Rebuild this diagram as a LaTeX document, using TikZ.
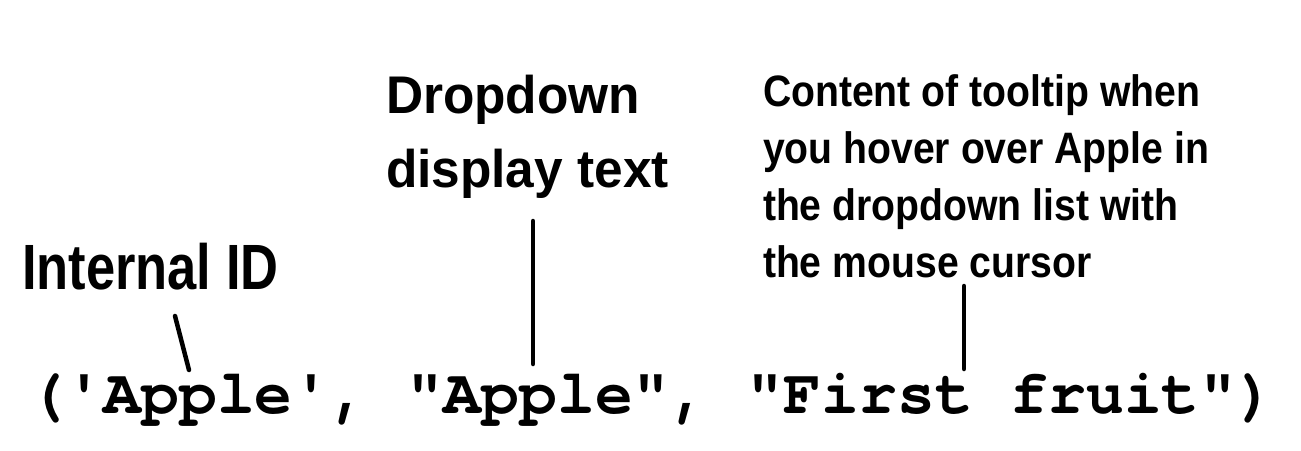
\documentclass[tikz,border=0pt]{standalone}
\usepackage{fontspec}
\newfontfamily\labA[FakeStretch=0.82]{Liberation Sans}
\newfontfamily\labB[FakeStretch=0.97]{Liberation Sans}
\newfontfamily\labC[FakeStretch=0.89]{Liberation Sans}
\newfontfamily\codefont{TeX Gyre Cursor}
\begin{document}
\begin{tikzpicture}[x=1pt,y=-1pt,
  lbl/.style={anchor=base west,inner sep=0pt,outer sep=0pt,align=left},
  conn/.style={line width=4.5pt,line cap=round,black}]
\useasboundingbox (0,0) rectangle (1301,450);
\node[lbl,font=\labA\bfseries\fontsize{64}{70}\selectfont] (iid) at (22,289) {Internal ID};
\node[lbl,font=\labB\bfseries\fontsize{53}{74}\selectfont] (ddt) at (386,187) {Dropdown\\display text};
\node[lbl,font=\labC\bfseries\fontsize{44}{56.7}\selectfont] (tip) at (763,277) {Content of tooltip when\\you hover over Apple in\\the dropdown list with\\the mouse cursor};
\node[lbl,font=\codefont\bfseries\fontsize{63}{70}\selectfont] (code) at (28,413) {('Apple', "Apple", "First fruit")};
\coordinate (a1) at (175,316);
\coordinate (a2) at (189,370);
\coordinate (b1) at (533,221);
\coordinate (b2) at (533,364);
\coordinate (c1) at (964,286);
\coordinate (c2) at (964,369);
\draw[conn] (a1) -- (a2);
\draw[conn] (b1) -- (b2);
\draw[conn] (c1) -- (c2);
\end{tikzpicture}
\end{document}
